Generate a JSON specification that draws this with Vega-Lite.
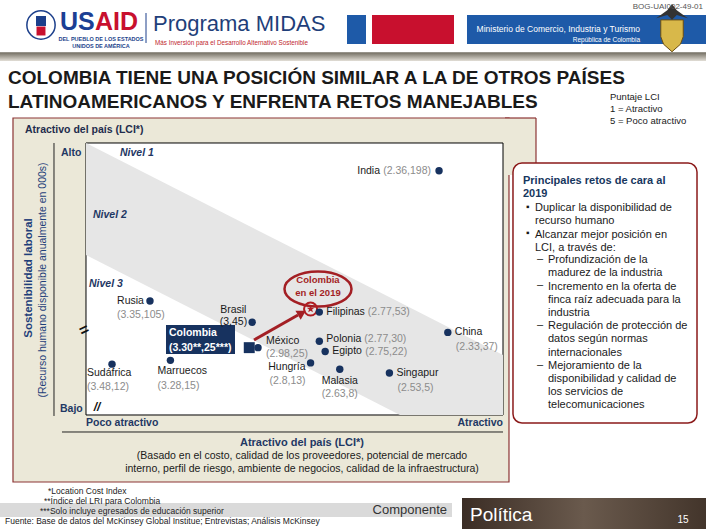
{
"$schema": "https://vega.github.io/schema/vega-lite/v6.json",
"width": 706, "height": 529, "autosize": "none", "padding": 0,
"background": "white",
"config": {"font": "Liberation Sans", "view": {"stroke": null}, "axis": {"disable": true}},
"data": {"values": [{}]},
"datasets": {
 "countries": [
  {"country": "India", "lci": 2.36, "avail": 198, "vals": "(2.36,198)"},
  {"country": "Rusia", "lci": 3.35, "avail": 105, "vals": "(3.35,105)"},
  {"country": "Filipinas", "lci": 2.77, "avail": 53, "vals": "(2.77,53)"},
  {"country": "Brasil", "lci": 3.0, "avail": 45, "vals": "(3,45)"},
  {"country": "China", "lci": 2.33, "avail": 37, "vals": "(2.33,37)"},
  {"country": "Polonia", "lci": 2.77, "avail": 30, "vals": "(2.77,30)"},
  {"country": "México", "lci": 2.98, "avail": 25, "vals": "(2.98,25)"},
  {"country": "Colombia", "lci": 3.01, "avail": 25, "vals": "(3.30**,25***)"},
  {"country": "Egipto", "lci": 2.75, "avail": 22, "vals": "(2.75,22)"},
  {"country": "Marruecos", "lci": 3.28, "avail": 15, "vals": "(3.28,15)"},
  {"country": "Hungría", "lci": 2.8, "avail": 13, "vals": "(2.8,13)"},
  {"country": "Sudáfrica", "lci": 3.48, "avail": 12, "vals": "(3.48,12)"},
  {"country": "Malasia", "lci": 2.7, "avail": 8, "vals": "(2.63,8)"},
  {"country": "Singapur", "lci": 2.53, "avail": 5, "vals": "(2.53,5)"}
 ],
 "band": [
  {"x": 3.5691, "y": 217.86, "y2": 137.86},
  {"x": 2.4937, "y": 103.86, "y2": -28.03},
  {"x": 2.1410, "y": 19.21, "y2": -28.03}
 ]
},
"layer": [
 {"mark": {"type": "rect", "color": {"gradient": "linear", "x1": 0, "y1": 0, "x2": 0, "y2": 1, "stops": [{"offset": 0, "color": "#6f6a5e"}, {"offset": 1, "color": "#e2ded6"}]}},
  "encoding": {
   "x": {"datum": 3.8636, "type": "quantitative", "scale": {"domain": [3.8636, 1.4458], "nice": false, "zero": false}, "axis": null},
   "x2": {"datum": 1.4458},
   "y": {"datum": 282.71, "type": "quantitative", "scale": {"domain": [-117.8, 0, 55, 100, 320], "range": [529, 379.4, 309.55, 308, 0], "nice": false, "zero": false}, "axis": null},
   "y2": {"datum": 276.43}}},

 {"mark": {"type": "rect", "fill": "#ebe8d8", "stroke": "#8c3434", "strokeWidth": 1.2},
  "encoding": {"x": {"datum": 3.8191}, "x2": {"datum": 2.1205}, "y": {"datum": 235.71}, "y2": {"datum": -80.78}}},
 {"mark": {"type": "rect", "fill": "#ebe8d8"},
  "encoding": {"x": {"datum": 2.1342}, "x2": {"datum": 2.0280}, "y": {"datum": 235.71}, "y2": {"datum": 195.0}}},
 {"mark": {"type": "rule", "color": "#8c3434", "strokeWidth": 1.2},
  "encoding": {"x": {"datum": 2.1342}, "x2": {"datum": 2.0280}, "y": {"datum": 235.71}}},
 {"mark": {"type": "rule", "color": "#8c3434", "strokeWidth": 1.2},
  "encoding": {"x": {"datum": 2.0280}, "y": {"datum": 235.71}, "y2": {"datum": 195.0}}},
 {"mark": {"type": "text", "text": "Atractivo del país (LCI*)", "align": "left", "fontWeight": "bold", "fontSize": 10.5, "color": "#1f2d4d"},
  "encoding": {"x": {"datum": 3.7780}, "y": {"datum": 227.14}}},

 {"mark": {"type": "rect", "fill": "#ffffff", "stroke": "#000000", "strokeWidth": 1},
  "encoding": {"x": {"datum": 3.5691}, "x2": {"datum": 2.1410}, "y": {"datum": 217.86}, "y2": {"datum": -28.03}}},
 {"data": {"name": "band"}, "mark": {"type": "area", "color": "#e6e6e6", "opacity": 1},
  "encoding": {"x": {"field": "x", "type": "quantitative"}, "y": {"field": "y", "type": "quantitative"}, "y2": {"field": "y2"}}},

 {"mark": {"type": "text", "text": "Nivel 1", "align": "left", "fontWeight": "bold", "fontStyle": "italic", "fontSize": 10.5, "color": "#1f3864"},
  "encoding": {"x": {"datum": 3.4526}, "y": {"datum": 210.71}}},
 {"mark": {"type": "text", "text": "Nivel 2", "align": "left", "fontWeight": "bold", "fontStyle": "italic", "fontSize": 10.5, "color": "#1f3864"},
  "encoding": {"x": {"datum": 3.5451}, "y": {"datum": 166.43}}},
 {"mark": {"type": "text", "text": "Nivel 3", "align": "left", "fontWeight": "bold", "fontStyle": "italic", "fontSize": 10.5, "color": "#1f3864"},
  "encoding": {"x": {"datum": 3.5588}, "y": {"datum": 117.14}}},
 {"mark": {"type": "text", "text": "Alto", "align": "left", "fontWeight": "bold", "fontSize": 10.5, "color": "#1f3864"},
  "encoding": {"x": {"datum": 3.6547}, "y": {"datum": 210.71}}},
 {"mark": {"type": "text", "text": "Bajo", "align": "left", "fontWeight": "bold", "fontSize": 10.5, "color": "#1f3864"},
  "encoding": {"x": {"datum": 3.6581}, "y": {"datum": -23.31}}},
 {"mark": {"type": "text", "text": "Sostenibilidad laboral", "angle": 270, "fontWeight": "bold", "fontSize": 11.5, "color": "#1f3f7a"},
  "encoding": {"x": {"datum": 3.7643}, "y": {"datum": 121.43}}},
 {"mark": {"type": "text", "text": "(Recurso humano disponible anualmente  en 000s)", "angle": 270, "fontSize": 10.5, "color": "#1f3f7a"},
  "encoding": {"x": {"datum": 3.7163}, "y": {"datum": 120.0}}},
 {"mark": {"type": "rule", "color": "#222222", "strokeWidth": 1},
  "encoding": {"x": {"datum": 3.6787}, "y": {"datum": 217.86}, "y2": {"datum": -28.82}}},
 {"mark": {"type": "rule", "color": "#222222", "strokeWidth": 1},
  "encoding": {"x": {"datum": 3.6513}, "x2": {"datum": 2.1410}, "y": {"datum": -41.41}}},
 {"mark": {"type": "text", "text": "Poco atractivo", "align": "left", "fontWeight": "bold", "fontSize": 10.5, "color": "#1f3864"},
  "encoding": {"x": {"datum": 3.5691}, "y": {"datum": -34.33}}},
 {"mark": {"type": "text", "text": "Atractivo", "align": "right", "fontWeight": "bold", "fontSize": 10.5, "color": "#1f3864"},
  "encoding": {"x": {"datum": 2.1410}, "y": {"datum": -34.33}}},
 {"mark": {"type": "text", "text": "Atractivo del país (LCI*)", "fontWeight": "bold", "fontSize": 11, "color": "#1f3864"},
  "encoding": {"x": {"datum": 2.8294}, "y": {"datum": -50.07}}},
 {"mark": {"type": "text", "text": ["(Basado en el costo, calidad de los proveedores, potencial de mercado", "interno, perfil de riesgo, ambiente de negocios, calidad de la infraestructura)"], "baseline": "top", "lineHeight": 13, "fontSize": 10.5, "color": "#1a1a1a"},
  "encoding": {"x": {"datum": 2.8294}, "y": {"datum": -56.77}}},
 {"mark": {"type": "text", "text": "=", "angle": 335, "fontWeight": "bold", "fontSize": 16, "color": "#111111"},
  "encoding": {"x": {"datum": 3.5759}, "y": {"datum": 38.90}}},
 {"mark": {"type": "text", "text": "//", "fontWeight": "bold", "fontStyle": "italic", "fontSize": 12, "color": "#111111"},
  "encoding": {"x": {"datum": 3.5314}, "y": {"datum": -21.73}}},

 {"mark": {"type": "point", "shape": "M-1,0A1,0.522,0,1,1,1,0A1,0.522,0,1,1,-1,0Z", "size": 4489, "filled": false, "color": "#a31f24", "strokeWidth": 2.5, "opacity": 1},
  "encoding": {"x": {"datum": 2.7746}, "y": {"datum": 113.57}}},
 {"mark": {"type": "text", "text": ["Colombia", "en el 2019"], "baseline": "top", "lineHeight": 13, "fontWeight": "bold", "fontSize": 9.5, "color": "#a31f24"},
  "encoding": {"x": {"datum": 2.7746}, "y": {"datum": 123.64}}},
 {"mark": {"type": "rule", "color": "#a31f24", "strokeWidth": 3},
  "encoding": {"x": {"datum": 2.9937}, "y": {"datum": 30.97}, "x2": {"datum": 2.8431}, "y2": {"datum": 50.71}}},
 {"mark": {"type": "point", "shape": "triangle-up", "size": 110, "angle": 60, "filled": true, "color": "#a31f24", "opacity": 1},
  "encoding": {"x": {"datum": 2.8294}, "y": {"datum": 52.28}}},
 {"mark": {"type": "point", "shape": "circle", "size": 170, "filled": false, "color": "#b01e23", "strokeWidth": 2, "opacity": 1},
  "encoding": {"x": {"datum": 2.80}, "y": {"datum": 70}}},
 {"mark": {"type": "point", "shape": "M0,-1L0.235,-0.324L0.951,-0.309L0.38,0.124L0.588,0.809L0,0.4L-0.588,0.809L-0.38,0.124L-0.951,-0.309L-0.235,-0.324Z", "size": 64, "filled": true, "color": "#b01e23", "opacity": 1},
  "encoding": {"x": {"datum": 2.80}, "y": {"datum": 70}}},

 {"mark": {"type": "rect", "fill": "#17325f"},
  "encoding": {"x": {"datum": 3.2951}, "x2": {"datum": 3.0588}, "y": {"datum": 42.84}, "y2": {"datum": 20.0}}},
 {"mark": {"type": "text", "text": ["Colombia", "(3.30**,25***)"], "align": "left", "baseline": "top", "lineHeight": 15, "fontWeight": "bold", "fontSize": 10.5, "color": "#ffffff"},
  "encoding": {"x": {"datum": 3.2848}, "y": {"datum": 40.08}}},

 {"data": {"name": "countries"},
  "encoding": {"x": {"field": "lci", "type": "quantitative"}, "y": {"field": "avail", "type": "quantitative"}},
  "layer": [
   {"transform": [{"filter": "datum.country !== 'Colombia'"}],
    "mark": {"type": "point", "shape": "circle", "filled": true, "size": 55, "color": "#17325f", "opacity": 1}},
   {"transform": [{"filter": "datum.country === 'Colombia'"}],
    "mark": {"type": "point", "shape": "square", "filled": true, "size": 120, "color": "#17325f", "opacity": 1}},
   {"transform": [{"filter": {"field": "country", "oneOf": ["Filipinas", "Egipto", "Singapur", "China"]}}],
    "mark": {"type": "text", "align": "left", "dx": 7, "fontSize": 10.5, "color": "#1a1a1a"}, "encoding": {"text": {"field": "country"}}},
   {"transform": [{"filter": "datum.country === 'Polonia'"}],
    "mark": {"type": "text", "align": "left", "dx": 7, "dy": -2, "fontSize": 10.5, "color": "#1a1a1a"}, "encoding": {"text": {"field": "country"}}},
   {"transform": [{"filter": "datum.country === 'Filipinas'"}],
    "mark": {"type": "text", "align": "left", "dx": 48.5, "fontSize": 10.5, "color": "#8c8c8c"}, "encoding": {"text": {"field": "vals"}}},
   {"transform": [{"filter": "datum.country === 'Polonia'"}],
    "mark": {"type": "text", "align": "left", "dx": 45, "dy": -2, "fontSize": 10.5, "color": "#8c8c8c"}, "encoding": {"text": {"field": "vals"}}},
   {"transform": [{"filter": "datum.country === 'Egipto'"}],
    "mark": {"type": "text", "align": "left", "dx": 40, "dy": 1, "fontSize": 10.5, "color": "#8c8c8c"}, "encoding": {"text": {"field": "vals"}}},
   {"transform": [{"filter": {"field": "country", "oneOf": ["Singapur", "China"]}}],
    "mark": {"type": "text", "align": "left", "dx": 8, "dy": 15, "fontSize": 10.5, "color": "#8c8c8c"}, "encoding": {"text": {"field": "vals"}}},
   {"transform": [{"filter": "datum.country === 'México'"}],
    "mark": {"type": "text", "align": "left", "dx": 8, "dy": -7, "fontSize": 10.5, "color": "#1a1a1a"}, "encoding": {"text": {"field": "country"}}},
   {"transform": [{"filter": "datum.country === 'México'"}],
    "mark": {"type": "text", "align": "left", "dx": 8, "dy": 6, "fontSize": 10.5, "color": "#8c8c8c"}, "encoding": {"text": {"field": "vals"}}},
   {"transform": [{"filter": "datum.country === 'India'"}],
    "mark": {"type": "text", "align": "right", "dx": -8, "fontSize": 10.5, "color": "#8c8c8c"}, "encoding": {"text": {"field": "vals"}}},
   {"transform": [{"filter": "datum.country === 'India'"}],
    "mark": {"type": "text", "align": "right", "dx": -59, "fontSize": 10.5, "color": "#1a1a1a"}, "encoding": {"text": {"field": "country"}}},
   {"transform": [{"filter": "datum.country === 'Hungría'"}],
    "mark": {"type": "text", "align": "right", "dx": -5, "dy": 4, "fontSize": 10.5, "color": "#1a1a1a"}, "encoding": {"text": {"field": "country"}}},
   {"transform": [{"filter": "datum.country === 'Hungría'"}],
    "mark": {"type": "text", "align": "right", "dx": -5, "dy": 18, "fontSize": 10.5, "color": "#8c8c8c"}, "encoding": {"text": {"field": "vals"}}},
   {"transform": [{"filter": "datum.country === 'Malasia'"}],
    "mark": {"type": "text", "dy": 12, "fontSize": 10.5, "color": "#1a1a1a"}, "encoding": {"text": {"field": "country"}}},
   {"transform": [{"filter": "datum.country === 'Malasia'"}],
    "mark": {"type": "text", "dy": 25, "fontSize": 10.5, "color": "#8c8c8c"}, "encoding": {"text": {"field": "vals"}}},
   {"transform": [{"filter": "datum.country === 'Marruecos'"}],
    "mark": {"type": "text", "align": "left", "dx": -13, "dy": 11, "fontSize": 10.5, "color": "#1a1a1a"}, "encoding": {"text": {"field": "country"}}},
   {"transform": [{"filter": "datum.country === 'Marruecos'"}],
    "mark": {"type": "text", "align": "left", "dx": -13, "dy": 26, "fontSize": 10.5, "color": "#8c8c8c"}, "encoding": {"text": {"field": "vals"}}},
   {"transform": [{"filter": "datum.country === 'Sudáfrica'"}],
    "mark": {"type": "text", "align": "left", "dx": -25, "dy": 9, "fontSize": 10.5, "color": "#1a1a1a"}, "encoding": {"text": {"field": "country"}}},
   {"transform": [{"filter": "datum.country === 'Sudáfrica'"}],
    "mark": {"type": "text", "align": "left", "dx": -25, "dy": 23, "fontSize": 10.5, "color": "#8c8c8c"}, "encoding": {"text": {"field": "vals"}}},
   {"transform": [{"filter": "datum.country === 'Rusia'"}],
    "mark": {"type": "text", "align": "right", "dx": -6, "fontSize": 10.5, "color": "#1a1a1a"}, "encoding": {"text": {"field": "country"}}},
   {"transform": [{"filter": "datum.country === 'Rusia'"}],
    "mark": {"type": "text", "align": "left", "dx": -33, "dy": 14, "fontSize": 10.5, "color": "#8c8c8c"}, "encoding": {"text": {"field": "vals"}}},
   {"transform": [{"filter": "datum.country === 'Brasil'"}],
    "mark": {"type": "text", "align": "left", "dx": -32, "dy": -12, "fontSize": 10.5, "color": "#1a1a1a"}, "encoding": {"text": {"field": "country"}}},
   {"transform": [{"filter": "datum.country === 'Brasil'"}],
    "mark": {"type": "text", "align": "right", "dx": -5, "fontSize": 10.5, "color": "#1a1a1a"}, "encoding": {"text": {"field": "vals"}}}
  ]},

 {"mark": {"type": "rect", "fill": "#ffffff", "stroke": "#8b1a1a", "strokeWidth": 1.5, "cornerRadius": 9},
  "encoding": {"x": {"datum": 2.1068}, "x2": {"datum": 1.4766}, "y": {"datum": 203.57}, "y2": {"datum": -34.33}}},
 {"mark": {"type": "text", "text": ["Principales retos de cara al", "2019"], "align": "left", "baseline": "top", "lineHeight": 13, "fontWeight": "bold", "fontSize": 11, "color": "#17375e"},
  "encoding": {"x": {"datum": 2.0725}, "y": {"datum": 194.79}}},
 {"mark": {"type": "text", "text": "▪", "align": "left", "fontSize": 10, "color": "#1a1a1a"},
  "encoding": {"x": {"datum": 2.0622}, "y": {"datum": 172.14}}},
 {"mark": {"type": "text", "text": "▪", "align": "left", "fontSize": 10, "color": "#1a1a1a"},
  "encoding": {"x": {"datum": 2.0622}, "y": {"datum": 153.29}}},
 {"mark": {"type": "text", "text": ["Duplicar la disponibilidad de", "recurso humano", "Alcanzar mejor posición en", "LCI, a través de:"], "align": "left", "baseline": "top", "lineHeight": 13.2, "fontSize": 11, "color": "#1a1a1a"},
  "encoding": {"x": {"datum": 2.0314}, "y": {"datum": 175.5}}},
 {"mark": {"type": "text", "text": "–", "align": "left", "fontSize": 11, "color": "#1a1a1a"},
  "encoding": {"x": {"datum": 2.0246}, "y": {"datum": 135.0}}},
 {"mark": {"type": "text", "text": "–", "align": "left", "fontSize": 11, "color": "#1a1a1a"},
  "encoding": {"x": {"datum": 2.0246}, "y": {"datum": 116.14}}},
 {"mark": {"type": "text", "text": "–", "align": "left", "fontSize": 11, "color": "#1a1a1a"},
  "encoding": {"x": {"datum": 2.0246}, "y": {"datum": 42.83}}},
 {"mark": {"type": "text", "text": "–", "align": "left", "fontSize": 11, "color": "#1a1a1a"},
  "encoding": {"x": {"datum": 2.0246}, "y": {"datum": 11.65}}},
 {"mark": {"type": "text", "text": ["Profundización de la", "madurez de la industria", "Incremento en la oferta de", "finca raíz  adecuada para la", "industria", "Regulación de protección de", "datos según normas", "internacionales", "Mejoramiento de la", "disponibilidad y calidad de", "los servicios de", "telecomunicaciones"], "align": "left", "baseline": "top", "lineHeight": 13.2, "fontSize": 11, "color": "#1a1a1a"},
  "encoding": {"x": {"datum": 1.9869}, "y": {"datum": 138.36}}},

 {"mark": {"type": "point", "shape": "circle", "size": 800, "fill": "#ffffff", "stroke": "#1c3f8b", "strokeWidth": 1.5, "opacity": 1},
  "encoding": {"x": {"datum": 3.7232}, "y": {"datum": 302.14}}},
 {"mark": {"type": "point", "shape": "square", "size": 100, "filled": true, "color": "#1c3f8b", "opacity": 1},
  "encoding": {"x": {"datum": 3.7232}, "y": {"datum": 305}}},
 {"mark": {"type": "point", "shape": "square", "size": 80, "filled": true, "color": "#c8102e", "opacity": 1},
  "encoding": {"x": {"datum": 3.7232}, "y": {"datum": 297.86}}},
 {"mark": {"type": "text", "text": "US", "align": "left", "fontWeight": "bold", "fontSize": 25, "color": "#1c3f94"},
  "encoding": {"x": {"datum": 3.6581}, "y": {"datum": 304.29}}},
 {"mark": {"type": "text", "text": "AID", "align": "left", "fontWeight": "bold", "fontSize": 25, "color": "#c8102e"},
  "encoding": {"x": {"datum": 3.5383}, "y": {"datum": 304.29}}},
 {"mark": {"type": "text", "text": ["DEL PUEBLO DE LOS ESTADOS", "UNIDOS DE AMÉRICA"], "baseline": "top", "lineHeight": 7, "fontWeight": "bold", "fontSize": 5.5, "color": "#1c3f8b"},
  "encoding": {"x": {"datum": 3.5177}, "y": {"datum": 293.86}}},
 {"mark": {"type": "rule", "color": "#1c3f8b", "strokeWidth": 1},
  "encoding": {"x": {"datum": 3.3636}, "y": {"datum": 310.71}, "y2": {"datum": 289.29}}},
 {"mark": {"type": "text", "text": "Programa MIDAS", "align": "left", "fontSize": 22, "color": "#1f3f7a"},
  "encoding": {"x": {"datum": 3.3396}, "y": {"datum": 302.86}}},
 {"mark": {"type": "text", "text": "Más Inversión para el Desarrollo Alternativo Sostenible", "align": "left", "fontSize": 6.3, "color": "#c0272d"},
  "encoding": {"x": {"datum": 3.3328}, "y": {"datum": 289.29}}},
 {"mark": {"type": "rect", "fill": "#1e5aa8"},
  "encoding": {"x": {"datum": 2.6752}, "x2": {"datum": 2.6102}, "y": {"datum": 309.29}, "y2": {"datum": 288.57}}},
 {"mark": {"type": "rect", "fill": "#c8102e"},
  "encoding": {"x": {"datum": 2.5896}, "x2": {"datum": 2.3088}, "y": {"datum": 309.29}, "y2": {"datum": 288.57}}},
 {"mark": {"type": "rect", "fill": "#1e5aa8"},
  "encoding": {"x": {"datum": 2.2643}, "x2": {"datum": 1.4458}, "y": {"datum": 309.29}, "y2": {"datum": 288.57}}},
 {"mark": {"type": "text", "text": "Ministerio de Comercio, Industria y Turismo", "align": "right", "fontSize": 8.5, "color": "#ffffff"},
  "encoding": {"x": {"datum": 1.6718}, "y": {"datum": 299.29}}},
 {"mark": {"type": "text", "text": "República de Colombia", "align": "right", "fontSize": 6.5, "color": "#ffffff"},
  "encoding": {"x": {"datum": 1.6718}, "y": {"datum": 291.43}}},
 {"mark": {"type": "point", "shape": "M-0.6,-0.7L0.6,-0.7L0.6,0.2L0.45,0.6L0,1L-0.45,0.6L-0.6,0.2Z", "size": 1400, "fill": "#d8b84a", "stroke": "#6b4e12", "strokeWidth": 1, "opacity": 1},
  "encoding": {"x": {"datum": 1.5622}, "y": {"datum": 296.43}}},
 {"mark": {"type": "point", "shape": "M-1,0.2L-0.3,-0.3L0,-0.7L0.3,-0.3L1,0.2L0.3,0L0,0.3L-0.3,0Z", "size": 1000, "filled": true, "color": "#333333", "opacity": 1},
  "encoding": {"x": {"datum": 1.5622}, "y": {"datum": 309.29}}},
 {"mark": {"type": "text", "text": "BOG-UAI002-49-01", "align": "right", "fontSize": 8, "color": "#555555"},
  "encoding": {"x": {"datum": 1.4561}, "y": {"datum": 315}}},

 {"mark": {"type": "text", "text": ["COLOMBIA TIENE UNA POSICIÓN SIMILAR A LA DE OTROS PAÍSES", "LATINOAMERICANOS Y ENFRENTA RETOS MANEJABLES"], "align": "left", "baseline": "top", "lineHeight": 24, "fontWeight": "bold", "fontSize": 19, "color": "#1a1a1a"},
  "encoding": {"x": {"datum": 3.8362}, "y": {"datum": 270.86}}},
 {"mark": {"type": "text", "text": ["Puntaje LCI", "1 = Atractivo", "5 = Poco atractivo"], "align": "left", "baseline": "top", "lineHeight": 12, "fontSize": 9.5, "color": "#1a1a1a"},
  "encoding": {"x": {"datum": 1.7746}, "y": {"datum": 254.36}}},

 {"mark": {"type": "rect", "fill": "#dadada"},
  "encoding": {"x": {"datum": 3.8636}, "x2": {"datum": 2.3157}, "y": {"datum": -97.33}, "y2": {"datum": -108.35}}},
 {"mark": {"type": "text", "text": "*Location Cost Index", "align": "left", "fontSize": 8.5, "color": "#222222"},
  "encoding": {"x": {"datum": 3.6992}, "y": {"datum": -87.87}}},
 {"mark": {"type": "text", "text": "**Índice del  LRI para Colombia", "align": "left", "fontSize": 8.5, "color": "#222222"},
  "encoding": {"x": {"datum": 3.7129}, "y": {"datum": -95.75}}},
 {"mark": {"type": "text", "text": "***Solo incluye egresados de educación superior", "align": "left", "fontSize": 8.5, "color": "#222222"},
  "encoding": {"x": {"datum": 3.7266}, "y": {"datum": -103.62}}},
 {"mark": {"type": "text", "text": "Fuente: Base de datos del McKinsey Global Institue; Entrevistas; Análisis McKinsey", "align": "left", "fontSize": 8.5, "color": "#222222"},
  "encoding": {"x": {"datum": 3.8465}, "y": {"datum": -111.50}}},
 {"mark": {"type": "text", "text": "Componente", "align": "right", "fontSize": 13, "color": "#333333"},
  "encoding": {"x": {"datum": 2.3328}, "y": {"datum": -102.83}}},
 {"mark": {"type": "rect", "color": {"gradient": "linear", "x1": 0, "y1": 0, "x2": 1, "y2": 0, "stops": [{"offset": 0, "color": "#3b2d25"}, {"offset": 0.5, "color": "#6a5a4d"}, {"offset": 1, "color": "#43352b"}]}},
  "encoding": {"x": {"datum": 2.2814}, "x2": {"datum": 1.4458}, "y": {"datum": -93.38}, "y2": {"datum": -117.8}}},
 {"mark": {"type": "text", "text": "Política", "align": "left", "fontSize": 19, "color": "#ffffff"},
  "encoding": {"x": {"datum": 2.2540}, "y": {"datum": -106.78}}},
 {"mark": {"type": "text", "text": "15", "fontSize": 10, "color": "#ffffff"},
  "encoding": {"x": {"datum": 1.5246}, "y": {"datum": -110.71}}}
]
}
